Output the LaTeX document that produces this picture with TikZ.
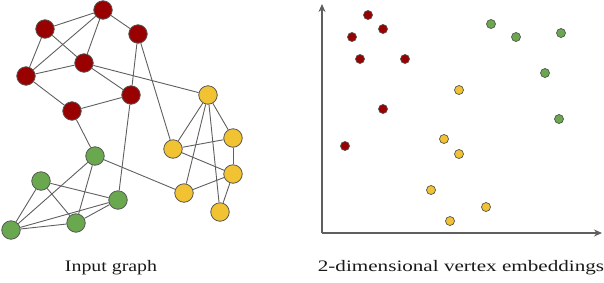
\documentclass[tikz,border=0pt]{standalone}
\usepackage{fontspec}
\setmainfont{Liberation Serif}
\usetikzlibrary{arrows.meta}
\definecolor{cred}{HTML}{990000}
\definecolor{cgreen}{HTML}{6AA84F}
\definecolor{cyellow}{HTML}{F1C232}
\definecolor{cline}{HTML}{5F5F5F}
\definecolor{cborder}{HTML}{555555}
\tikzset{
  vtx/.style={circle, draw=cborder, line width=0.8pt, minimum size=18.5pt, inner sep=0pt},
  rv/.style={vtx, fill=cred},
  gv/.style={vtx, fill=cgreen},
  yv/.style={vtx, fill=cyellow},
  pt/.style={circle, draw=cborder, line width=0.7pt, minimum size=9pt, inner sep=0pt},
  rp/.style={pt, fill=cred},
  gp/.style={pt, fill=cgreen},
  yp/.style={pt, fill=cyellow},
  edge/.style={draw=cline, line width=0.9pt},
  axis/.style={draw=cline, line width=1.4pt, -{Stealth[length=8pt,width=7pt]}},
  lbl/.style={font=\fontsize{16}{19}\selectfont, inner sep=0pt, anchor=base, text=black!90}
}
\begin{document}
\begin{tikzpicture}[x=1pt,y=-1pt]
\useasboundingbox (0,0) rectangle (604,282);
% red
\node[rv] (r1) at (103,10) {};
\node[rv] (r2) at (45,29) {};
\node[rv] (r3) at (138,34) {};
\node[rv] (r4) at (84,63) {};
\node[rv] (r5) at (26,76) {};
\node[rv] (r6) at (131,95) {};
\node[rv] (r7) at (72,111) {};
% yellow
\node[yv] (y1) at (208,95) {};
\node[yv] (y2) at (233,138) {};
\node[yv] (y3) at (173,149) {};
\node[yv] (y4) at (233,174) {};
\node[yv] (y5) at (184,193) {};
\node[yv] (y6) at (220,212) {};
% green
\node[gv] (g1) at (95,156) {};
\node[gv] (g2) at (41,181) {};
\node[gv] (g3) at (118,200) {};
\node[gv] (g4) at (76,223) {};
\node[gv] (g5) at (11,230) {};
\foreach \a/\b in {r1/r2,r1/r5,r1/r4,r1/r3,r2/r5,r2/r4,r5/r4,r5/r7,r4/r6,r4/y1,r3/r6,r3/y3,r6/r7,r6/g3,r7/g1,
  g1/y5,g1/g5,g1/g4,g2/g5,g2/g4,g2/g3,g3/g5,g3/g4,g4/g5,
  y1/y3,y1/y2,y1/y5,y1/y6,y3/y2,y3/y4,y2/y4,y4/y5,y4/y6}
  \draw[edge] (\a) -- (\b);
% axes
\coordinate (o) at (322,233);
\coordinate (ytop) at (322,4);
\coordinate (xend) at (602,233);
\draw[axis] (o) -- (ytop);
\draw[axis] (o) -- (xend);
% points
\node[rp] (pr1) at (368,15) {};
\node[rp] (pr2) at (383,29) {};
\node[rp] (pr3) at (352,37) {};
\node[rp] (pr4) at (360,59) {};
\node[rp] (pr5) at (405,59) {};
\node[rp] (pr6) at (383,109) {};
\node[rp] (pr7) at (345,146) {};
\node[gp] (pg1) at (491,24) {};
\node[gp] (pg2) at (516,37) {};
\node[gp] (pg3) at (561,33) {};
\node[gp] (pg4) at (545,73) {};
\node[gp] (pg5) at (559,119) {};
\node[yp] (py1) at (459,90) {};
\node[yp] (py2) at (444,139) {};
\node[yp] (py3) at (459,154) {};
\node[yp] (py4) at (431,190) {};
\node[yp] (py5) at (486,207) {};
\node[yp] (py6) at (450,221) {};
% labels
\node[lbl] (l1) at (111,271) {\scalebox{1.24}[1]{Input graph}};
\node[lbl] (l2) at (461,271) {\scalebox{1.32}[1]{2-dimensional vertex embeddings}};
\end{tikzpicture}
\end{document}
